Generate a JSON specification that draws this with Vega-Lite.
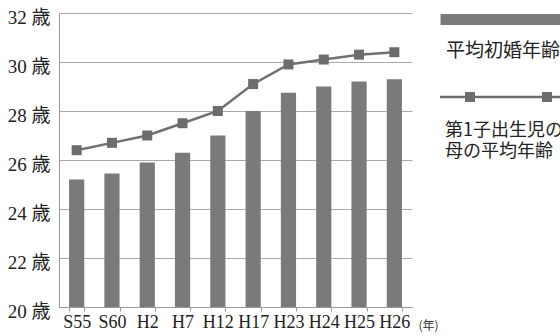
{
  "$schema": "https://vega.github.io/schema/vega-lite/v6.json",
  "width": 353,
  "height": 294,
  "autosize": "none",
  "padding": {"left": 59, "top": 13, "right": 148, "bottom": 29},
  "background": "white",
  "config": {"view": {"stroke": null}, "font": "Liberation Serif"},
  "data": {
    "values": [
      {"period": "S55", "marriage": 25.2, "mother": 26.4},
      {"period": "S60", "marriage": 25.45, "mother": 26.7},
      {"period": "H2", "marriage": 25.9, "mother": 27.0},
      {"period": "H7", "marriage": 26.3, "mother": 27.5},
      {"period": "H12", "marriage": 27.0, "mother": 28.0},
      {"period": "H17", "marriage": 28.0, "mother": 29.1},
      {"period": "H23", "marriage": 28.75, "mother": 29.9},
      {"period": "H24", "marriage": 29.0, "mother": 30.1},
      {"period": "H25", "marriage": 29.2, "mother": 30.3},
      {"period": "H26", "marriage": 29.3, "mother": 30.4}
    ]
  },
  "encoding": {
    "x": {
      "field": "period",
      "type": "nominal",
      "sort": null,
      "scale": {"paddingInner": 0.57, "paddingOuter": 0.285},
      "axis": {
        "title": "(年)",
        "labelAngle": 0,
        "tickBand": "extent",
        "tickSize": 4,
        "tickColor": "#999999",
        "domainColor": "#999999",
        "labelFont": "Liberation Serif",
        "labelFontSize": 18,
        "labelColor": "#222222",
        "labelPadding": 2,
        "titleFont": "Noto Sans CJK JP",
        "titleFontSize": 12,
        "titleFontWeight": "normal",
        "titleColor": "#333333",
        "titleX": 359,
        "titleY": 22,
        "titleAlign": "left",
        "titleBaseline": "alphabetic"
      }
    }
  },
  "layer": [
    {
      "mark": {"type": "bar"},
      "encoding": {
        "y": {
          "field": "marriage",
          "type": "quantitative",
          "scale": {"domain": [20, 32], "nice": false, "zero": false},
          "axis": {
            "title": null,
            "values": [20, 22, 24, 26, 28, 30, 32],
            "labelExpr": "datum.value + ' 歳'",
            "labelFont": "Liberation Serif, Noto Sans CJK JP",
            "labelFontSize": 19,
            "labelColor": "#222222",
            "tickSize": 0,
            "labelPadding": 9,
            "labelOffset": 4,
            "gridColor": "#aaaaaa",
            "domainColor": "#999999"
          }
        },
        "y2": {"datum": 20},
        "color": {
          "datum": "平均初婚年齢",
          "scale": {"range": ["#7a7a7a"]},
          "legend": {
            "orient": "none",
            "legendX": 434,
            "legendY": -3,
            "title": null,
            "padding": 0,
            "symbolType": "M-12.4,-1.1H12.4V1.1H-12.4Z",
            "symbolSize": 100,
            "symbolStrokeWidth": 0,
            "labelOffset": -66,
            "labelFont": "Noto Sans CJK JP",
            "labelFontSize": 19,
            "labelColor": "#222222",
            "labelBaseline": "top",
            "labelLimit": 0,
            "encode": {"labels": {"update": {"dy": {"value": 22}}}}
          }
        }
      }
    },
    {
      "mark": {"type": "line", "color": "#707070", "strokeWidth": 2.5},
      "encoding": {
        "y": {"field": "mother", "type": "quantitative"}
      }
    },
    {
      "mark": {"type": "point", "shape": "square", "filled": true, "size": 100, "opacity": 1},
      "encoding": {
        "y": {"field": "mother", "type": "quantitative"},
        "fill": {
          "datum": "第1子出生児の|母の平均年齢",
          "scale": {"range": ["#6c6c6c"]},
          "legend": {
            "orient": "none",
            "legendX": 434,
            "legendY": 75,
            "title": null,
            "padding": 0,
            "symbolType": "M-12.4,-0.25H12.4V0.25H-12.4Z M-7.4,-1H-5.4V1H-7.4Z M8,-1H10V1H8Z",
            "symbolSize": 100,
            "symbolStrokeWidth": 0,
            "symbolOpacity": 1,
            "labelOffset": -66,
            "labelFont": "Noto Sans CJK JP",
            "labelFontSize": 18,
            "labelColor": "#222222",
            "labelBaseline": "top",
            "labelLimit": 0,
            "labelExpr": "split(datum.label, '|')",
            "encode": {"labels": {"update": {"dy": {"value": 25}, "lineHeight": {"value": 21}}}}
          }
        }
      }
    }
  ]
}
